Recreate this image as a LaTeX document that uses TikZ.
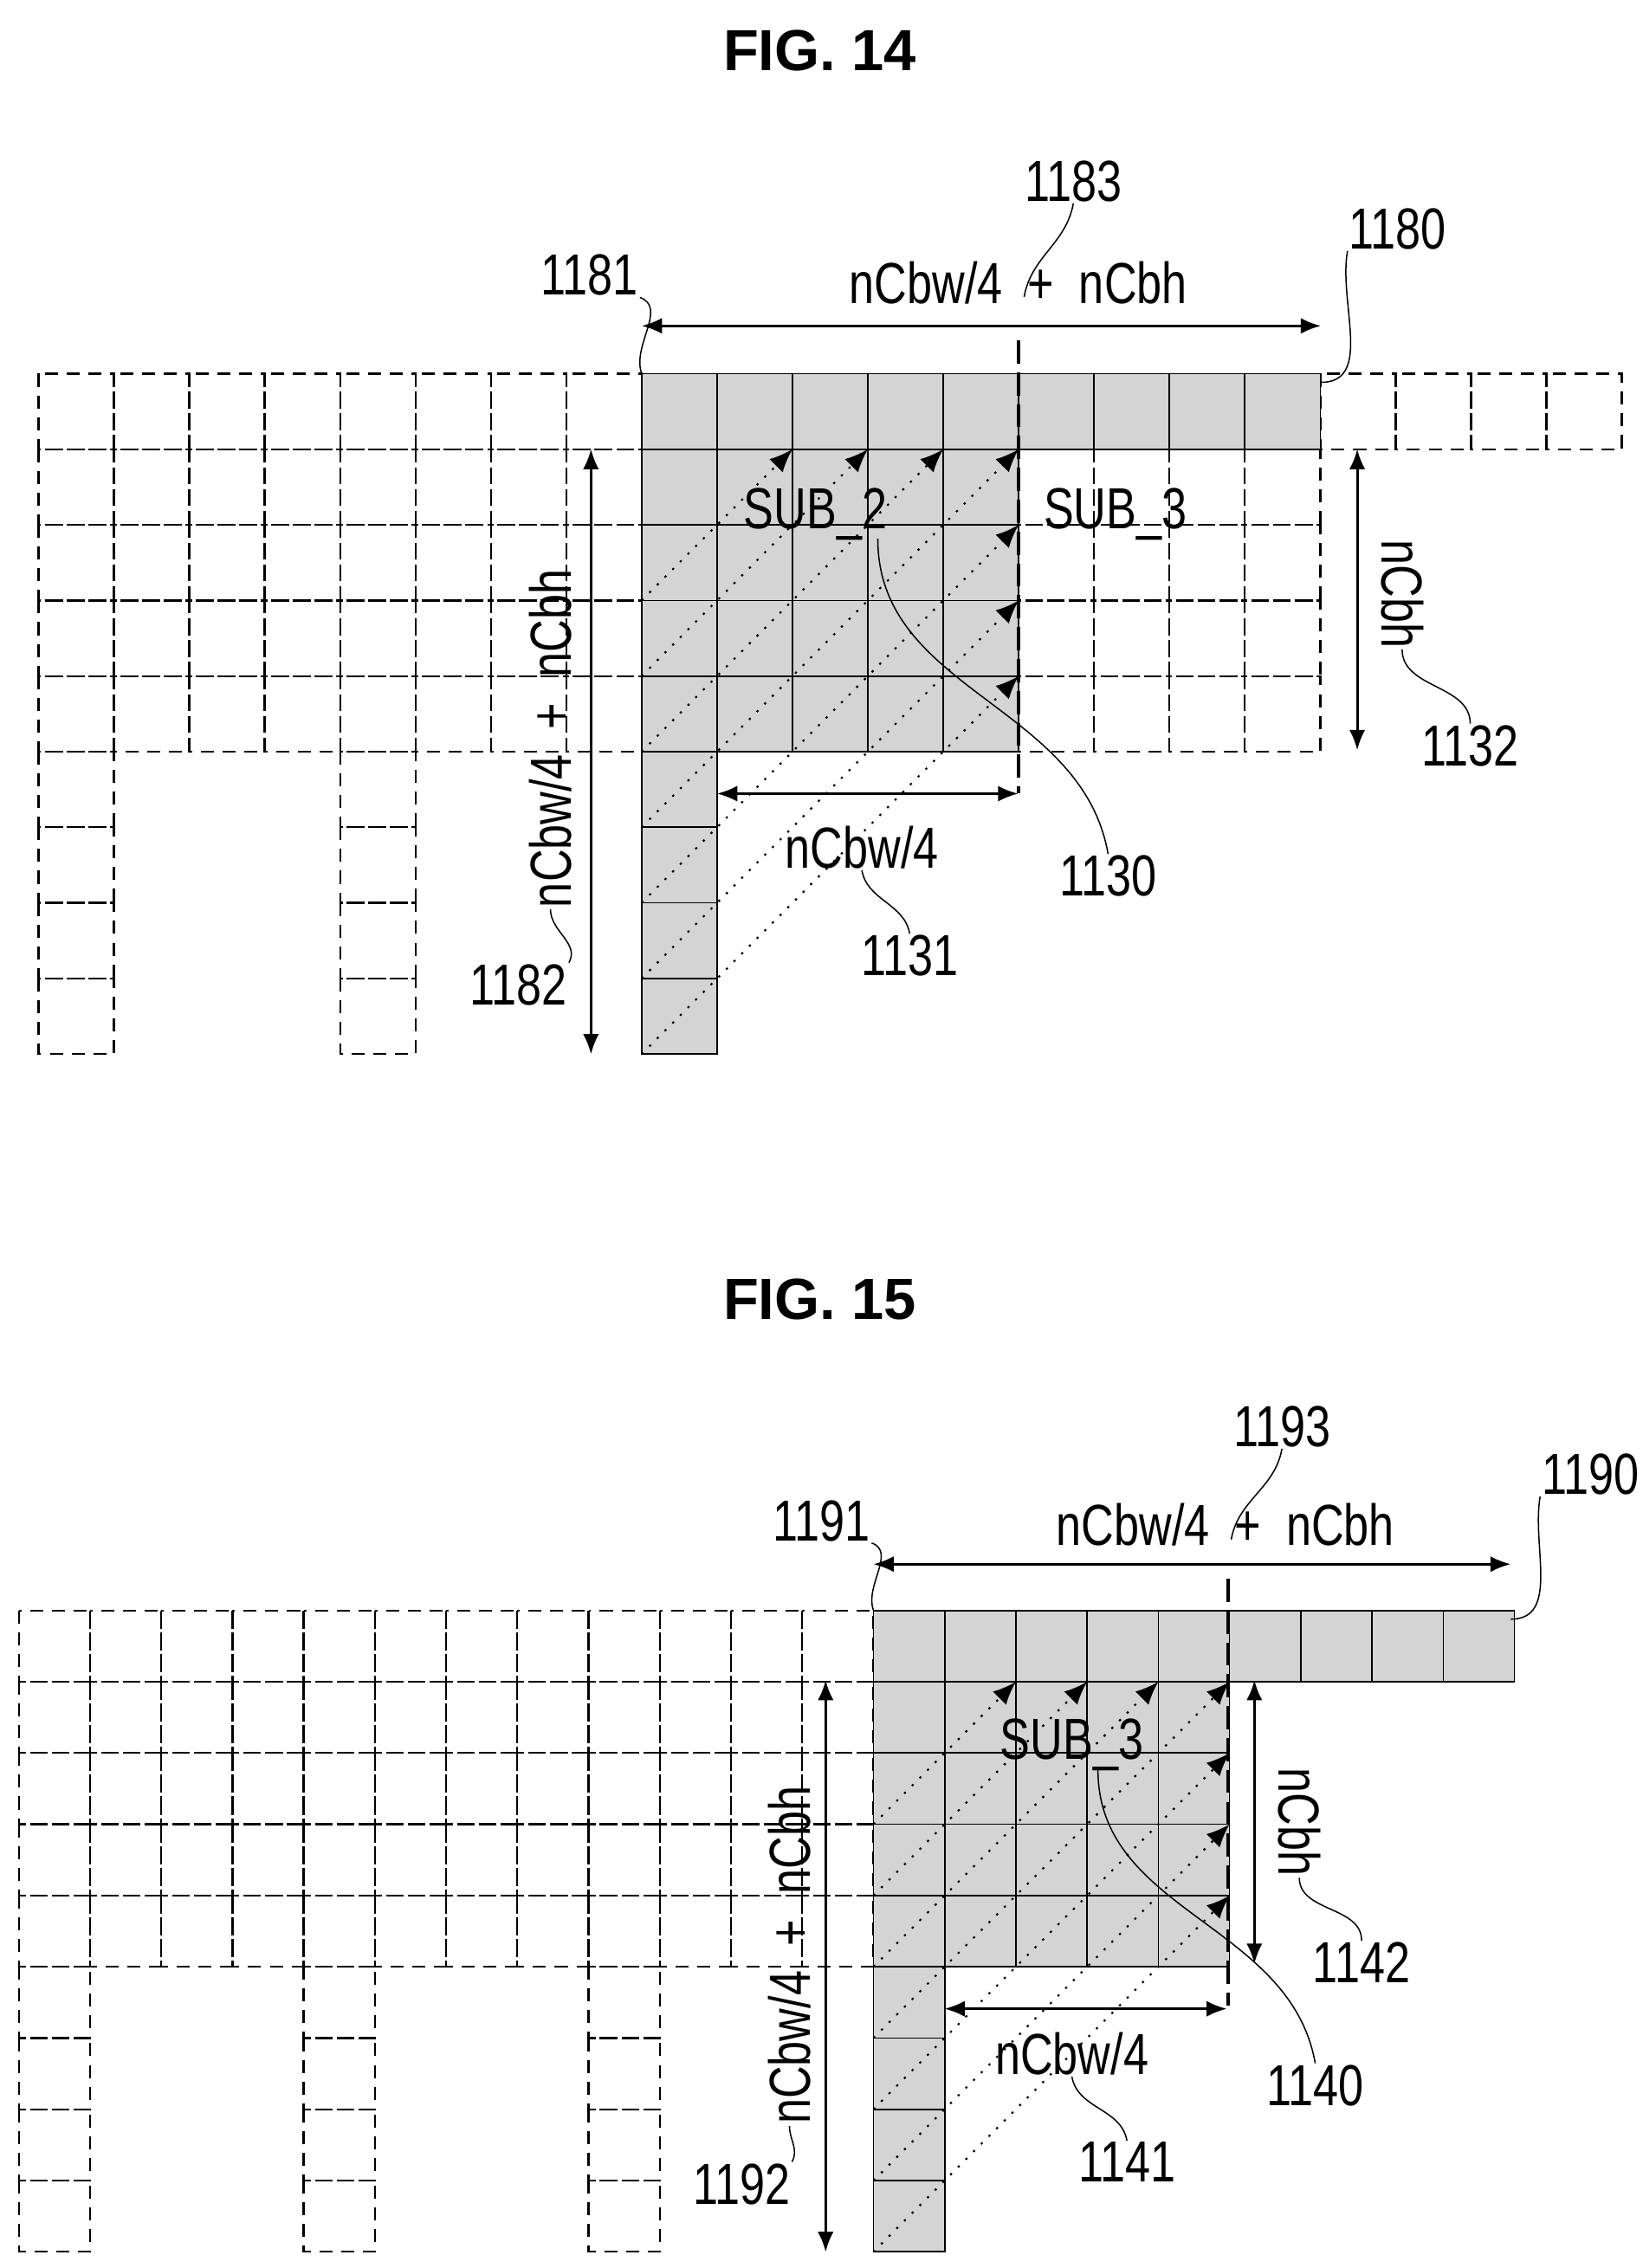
\documentclass[tikz,border=0pt]{standalone}
\usepackage{fontspec}
\setmainfont{Liberation Sans}
\newfontfamily\narrowf[FakeStretch=0.78]{Liberation Sans}
\usetikzlibrary{arrows.meta}
\begin{document}
\begin{tikzpicture}[x=1pt,y=-1pt,
  lab/.style={font=\narrowf\fontsize{40}{42}\selectfont,inner sep=1pt},
  title/.style={font=\fontsize{40}{46}\selectfont\bfseries},
  dcell/.style={draw,line width=1.4pt,dash pattern=on 9pt off 6pt},
  scell/.style={draw,line width=1pt,fill=black!17},
  dim/.style={line width=1.8pt,{Latex[length=14pt,width=11pt]}-{Latex[length=14pt,width=11pt]}},
  lead/.style={line width=0.9pt},
  diag/.style={line width=1.3pt,dash pattern=on 1.5pt off 6pt,-{Latex[length=16pt,width=13pt]}},
  sep/.style={line width=2.4pt,dash pattern=on 16pt off 6pt}]
\useasboundingbox (0,0) rectangle (1134,1566);
% ================= FIG 14 =================
\node[title] (t14) at (566,35) {FIG. 14};
\def\xo{443}\def\yo{258}\def\w{52.05}\def\h{52.2}
\foreach \c in {-8,...,-1}{\draw[dcell] ({\xo+\c*\w},\yo) rectangle +(\w,\h);}
\foreach \c in {9,...,12}{\draw[dcell] ({\xo+\c*\w},\yo) rectangle +(\w,\h);}
\foreach \r in {1,...,4}{
  \foreach \c in {-8,...,-1,5,6,7,8}{\draw[dcell] ({\xo+\c*\w},{\yo+\r*\h}) rectangle +(\w,\h);}}
\foreach \r in {5,...,8}{
  \foreach \c in {-8,-4}{\draw[dcell] ({\xo+\c*\w},{\yo+\r*\h}) rectangle +(\w,\h);}}
\foreach \c in {0,...,8}{\draw[scell] ({\xo+\c*\w},\yo) rectangle +(\w,\h);}
\foreach \r in {1,...,4}{\foreach \c in {0,...,4}{\draw[scell] ({\xo+\c*\w},{\yo+\r*\h}) rectangle +(\w,\h);}}
\foreach \r in {5,...,8}{\draw[scell] (\xo,{\yo+\r*\h}) rectangle +(\w,\h);}
\foreach \tc/\tr in {2/1,3/1,4/1,5/1,5/2,5/3,5/4}{
  \draw[diag] (\xo,{\yo+(\tr+\tc)*\h}) -- ({\xo+\tc*\w},{\yo+\tr*\h});}
\coordinate (s14a) at (703,235); \coordinate (s14b) at (703,548);
\draw[sep] (s14a) -- (s14b);
\coordinate (a1) at (443,225); \coordinate (a2) at (912,225);
\draw[dim] (a1) -- (a2);
\node[lab] (w14) at (703,195) {nCbw/4\ \ +\ \ nCbh};
\node[lab] (n1183) at (741,125) {1183};
\draw[lead] (707,205) to[out=80,in=-100] (n1183.south);
\node[lab] (n1181) at (407,190) {1181};
\coordinate (c1181) at (443,258);
\draw[lead] (n1181.south east) to[out=-20,in=110] (c1181);
\node[lab] (n1180) at (965,158) {1180};
\coordinate (c1180) at (912,264);
\draw[lead] (c1180) to[out=0,in=-100] (n1180.south west);
\node[lab] (sub2) at (563,355) {SUB\_2};
\node[lab] (sub3a) at (770,355) {SUB\_3};
\coordinate (v1) at (408,310); \coordinate (v2) at (408,728);
\draw[dim] (v1) -- (v2);
\node[lab,rotate=90] (h14) at (380,510) {nCbw/4\ \ +\ \ nCbh};
\node[lab] (n1182) at (358,680) {1182};
\draw[lead] (h14.west) to[out=-90,in=60] (n1182.north east);
\coordinate (r1) at (937,310); \coordinate (r2) at (937,518);
\draw[dim] (r1) -- (r2);
\node[lab,rotate=-90] (nc14) at (968,410) {nCbh};
\node[lab] (n1132) at (1015,515) {1132};
\draw[lead] (nc14.east) to[out=-90,in=90] (n1132.north);
\coordinate (b1) at (495,548); \coordinate (b2) at (703,548);
\draw[dim] (b1) -- (b2);
\node[lab] (q14) at (595,585) {nCbw/4};
\node[lab] (n1131) at (628,660) {1131};
\draw[lead] (q14.south) to[out=-80,in=100] (n1131.north);
\node[lab] (n1130) at (765,605) {1130};
\draw[lead] (606,372) to[out=-90,in=100] (n1130.north);
% ================= FIG 15 =================
\node[title] (t15) at (566,897) {FIG. 15};
\def\xo{603}\def\yo{1112}\def\w{49.17}\def\h{49.2}
\foreach \c in {-12,...,-1}{\draw[dcell] ({\xo+\c*\w},\yo) rectangle +(\w,\h);}
\foreach \r in {1,...,4}{
  \foreach \c in {-12,...,-1}{\draw[dcell] ({\xo+\c*\w},{\yo+\r*\h}) rectangle +(\w,\h);}}
\foreach \r in {5,...,8}{
  \foreach \c in {-12,-8,-4}{\draw[dcell] ({\xo+\c*\w},{\yo+\r*\h}) rectangle +(\w,\h);}}
\foreach \c in {0,...,8}{\draw[scell] ({\xo+\c*\w},\yo) rectangle +(\w,\h);}
\foreach \r in {1,...,4}{\foreach \c in {0,...,4}{\draw[scell] ({\xo+\c*\w},{\yo+\r*\h}) rectangle +(\w,\h);}}
\foreach \r in {5,...,8}{\draw[scell] (\xo,{\yo+\r*\h}) rectangle +(\w,\h);}
\foreach \tc/\tr in {2/1,3/1,4/1,5/1,5/2,5/3,5/4}{
  \draw[diag] (\xo,{\yo+(\tr+\tc)*\h}) -- ({\xo+\tc*\w},{\yo+\tr*\h});}
\coordinate (s15a) at (848,1090); \coordinate (s15b) at (848,1385);
\draw[sep] (s15a) -- (s15b);
\coordinate (a3) at (603,1080); \coordinate (a4) at (1043,1080);
\draw[dim] (a3) -- (a4);
\node[lab] (w15) at (846,1053) {nCbw/4\ \ +\ \ nCbh};
\node[lab] (n1193) at (885,985) {1193};
\draw[lead] (850,1063) to[out=80,in=-100] (n1193.south);
\node[lab] (n1191) at (567,1050) {1191};
\coordinate (c1191) at (603,1112);
\draw[lead] (n1191.south east) to[out=-20,in=110] (c1191);
\node[lab] (n1190) at (1098,1018) {1190};
\coordinate (c1190) at (1043,1118);
\draw[lead] (c1190) to[out=0,in=-100] (n1190.south west);
\node[lab] (sub3b) at (740,1205) {SUB\_3};
\coordinate (v3) at (570,1160); \coordinate (v4) at (570,1555);
\draw[dim] (v3) -- (v4);
\node[lab,rotate=90] (h15) at (545,1350) {nCbw/4\ \ +\ \ nCbh};
\node[lab] (n1192) at (512,1508) {1192};
\draw[lead] (h15.west) to[out=-90,in=60] (n1192.north east);
\coordinate (r3) at (866,1160); \coordinate (r4) at (866,1356);
\draw[dim] (r3) -- (r4);
\node[lab,rotate=-90] (nc15) at (897,1258) {nCbh};
\node[lab] (n1142) at (940,1355) {1142};
\draw[lead] (nc15.east) to[out=-90,in=90] (n1142.north);
\coordinate (b3) at (652,1387); \coordinate (b4) at (847,1387);
\draw[dim] (b3) -- (b4);
\node[lab] (q15) at (740,1418) {nCbw/4};
\node[lab] (n1141) at (778,1493) {1141};
\draw[lead] (q15.south) to[out=-80,in=100] (n1141.north);
\node[lab] (n1140) at (908,1440) {1140};
\draw[lead] (758,1222) to[out=-90,in=100] (n1140.north);
\end{tikzpicture}
\end{document}
